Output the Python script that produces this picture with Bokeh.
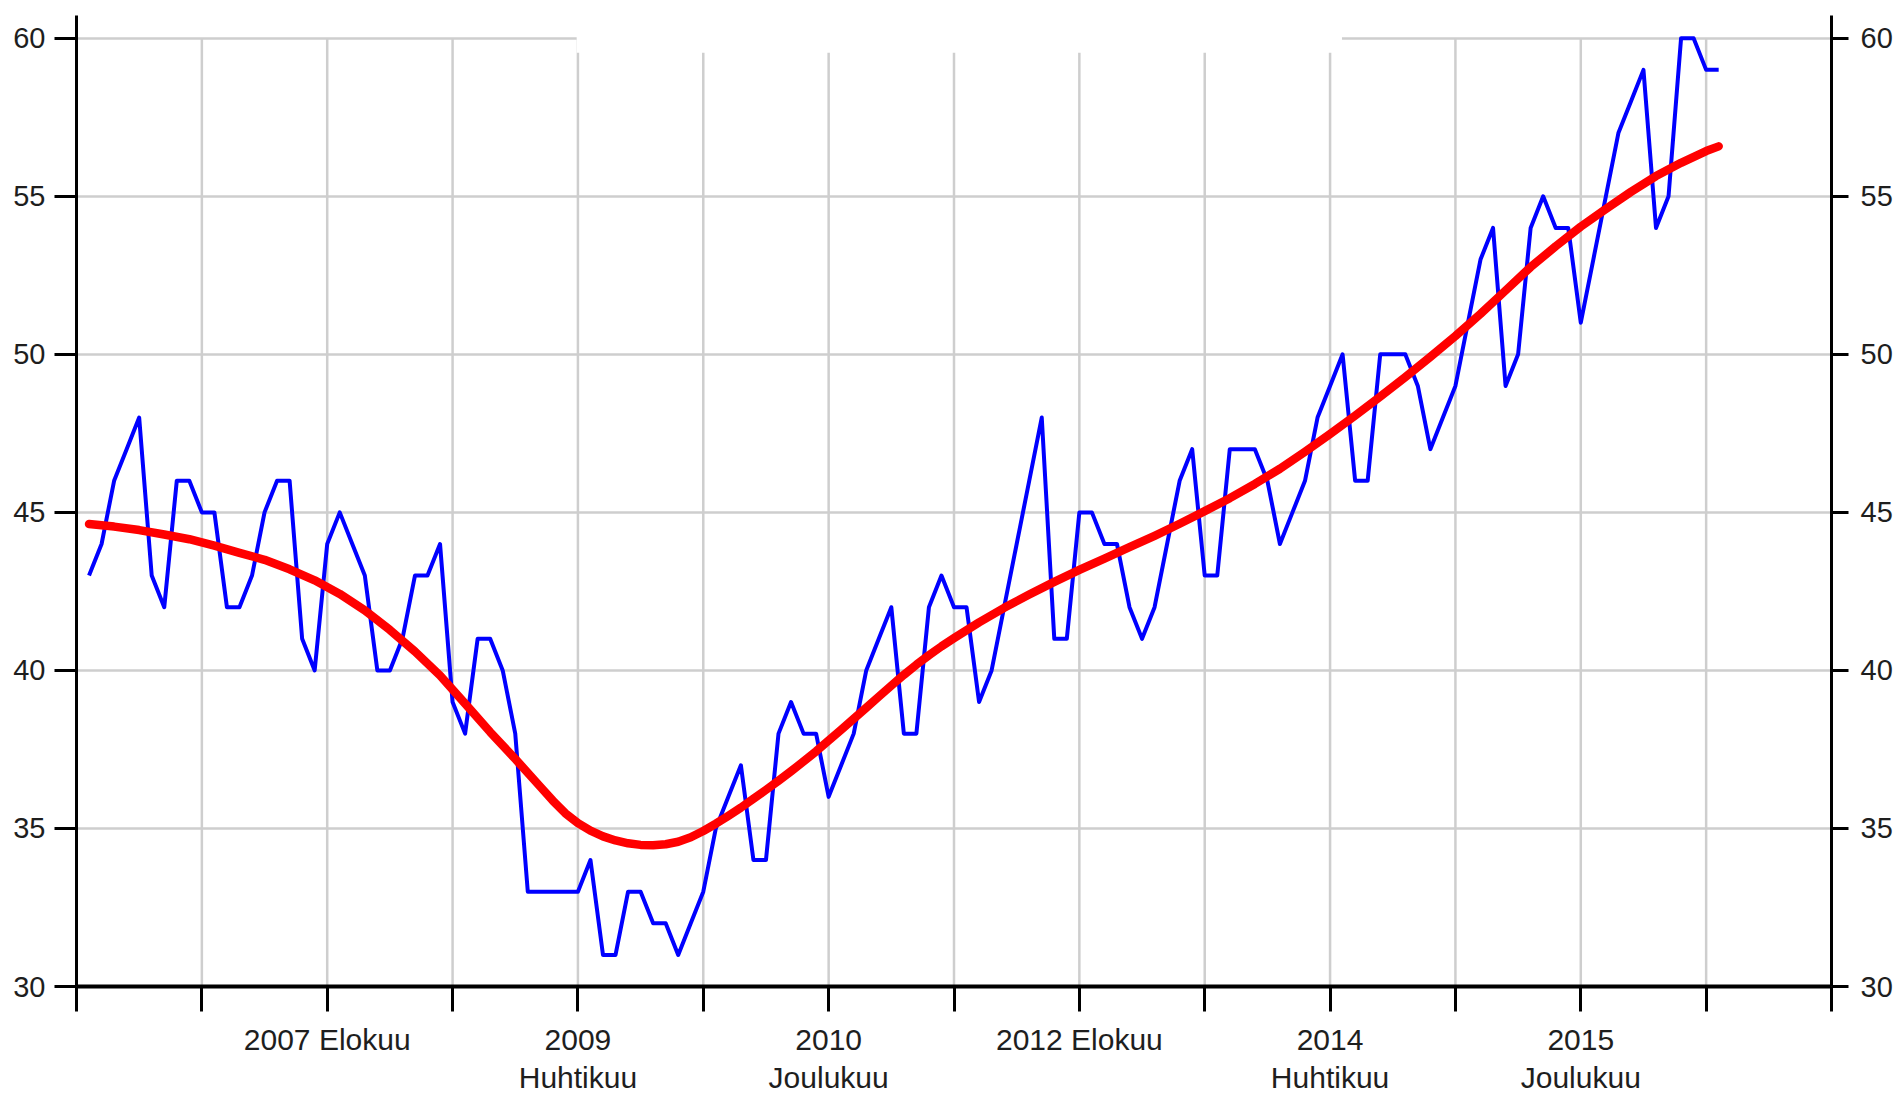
from bokeh.plotting import figure
from bokeh.models import LinearAxis, FixedTicker, Range1d, BoxAnnotation, Grid
from bokeh.embed import file_html
from bokeh.resources import INLINE

# Monthly index: 0 = 2005 Joulukuu (Dec 2005), 1 = Jan 2006, ...
series_values = [
    43, 44, 46, 47, 48, 43, 42, 46, 46, 45,
    45, 42, 42, 43, 45, 46, 46, 41, 40, 44,
    45, 44, 43, 40, 40, 41, 43, 43, 44, 39,
    38, 41, 41, 40, 38, 33, 33, 33, 33, 33,
    34, 31, 31, 33, 33, 32, 32, 31, 32, 33,
    35, 36, 37, 34, 34, 38, 39, 38, 38, 36,
    37, 38, 40, 41, 42, 38, 38, 42, 43, 42,
    42, 39, 40, 42, 44, 46, 48, 41, 41, 45,
    45, 44, 44, 42, 41, 42, 44, 46, 47, 43,
    43, 47, 47, 47, 46, 44, 45, 46, 48, 49,
    50, 46, 46, 50, 50, 50, 49, 47, 48, 49,
    51, 53, 54, 49, 50, 54, 55, 54, 54, 51,
    53, 55, 57, 58, 59, 54, 55, 60, 60, 59,
    59,
]
series_months = list(range(1, len(series_values) + 1))

trend_months = [1, 3, 5, 7, 9, 11, 13, 15, 17, 19, 21, 23, 25, 27, 29, 31, 33, 35,
                37, 38, 39, 40, 41, 42, 43, 44, 45, 46, 47, 48, 49, 50, 51, 52, 53,
                54, 55, 56, 57, 58, 59, 60, 61, 62, 63, 64, 65, 66, 67, 68, 69, 70,
                72, 74, 76, 78, 80, 82, 84, 86, 88, 90, 92, 94, 96, 98, 100, 102,
                104, 106, 108, 110, 112, 114, 116, 118, 120, 122, 124, 126, 128,
                130, 131]
trend_values = [44.63, 44.55, 44.44, 44.30, 44.15, 43.95, 43.72, 43.50, 43.20, 42.85,
                42.42, 41.90, 41.28, 40.60, 39.84, 38.95, 38.05, 37.20,
                36.32, 35.88, 35.48, 35.17, 34.93, 34.75, 34.62, 34.53, 34.48, 34.47,
                34.50, 34.58, 34.72, 34.92, 35.15, 35.40, 35.66,
                35.94, 36.22, 36.51, 36.81, 37.12, 37.44, 37.78, 38.12, 38.47, 38.82,
                39.17, 39.52, 39.86, 40.18, 40.48, 40.76, 41.02,
                41.52, 41.98, 42.40, 42.80, 43.18, 43.54, 43.90, 44.26, 44.64, 45.04,
                45.45, 45.90, 46.38, 46.92, 47.48, 48.06,
                48.66, 49.28, 49.92, 50.58, 51.28, 52.02, 52.76, 53.42, 54.04, 54.60,
                55.14, 55.64, 56.06, 56.43, 56.58]

x_ticks = list(range(0, 141, 10))
x_tick_labels = {20: "2007 Elokuu", 40: "2009\nHuhtikuu", 60: "2010\nJoulukuu",
                 80: "2012 Elokuu", 100: "2014\nHuhtikuu", 120: "2015\nJoulukuu"}
y_ticks = [30, 35, 40, 45, 50, 55, 60]

FONT = "Liberation Sans"
TXT = "#1e1e1e"
GRID = "#cecece"

p = figure(width=1903, height=1097, output_backend="svg", toolbar_location=None,
           x_range=Range1d(0, 140), y_range=Range1d(30, 60.72),
           min_border_left=76, min_border_right=72, min_border_top=15, min_border_bottom=111,
           x_axis_location=None, y_axis_location=None)
p.outline_line_color = None
p.background_fill_color = "white"
p.border_fill_color = "white"
p.xgrid.visible = False
p.ygrid.visible = False

# horizontal grid lines (full width)
hg = Grid(dimension=1, ticker=FixedTicker(ticks=y_ticks), grid_line_color=GRID, grid_line_width=2.5)
p.add_layout(hg)

# vertical grid lines between lowest and highest y tick
vx = [t for t in x_ticks if 0 < t < 140]
p.segment(x0=vx, x1=vx, y0=[min(y_ticks)] * len(vx), y1=[max(y_ticks)] * len(vx),
          line_color=GRID, line_width=2.5)

p.line(series_months, series_values, line_color="#0000ff", line_width=4, line_join="round")
p.line(trend_months, trend_values, line_color="#ff0000", line_width=8.5,
       line_join="round", line_cap="round")

# blank header area
p.add_layout(BoxAnnotation(left=39.9, right=100.95, bottom=59.54, top=60.72,
                           fill_color="white", fill_alpha=1.0, line_alpha=0, level="overlay"))


def style_axis(ax, tick_out, width, size):
    ax.axis_line_color = "black"
    ax.axis_line_width = width
    ax.major_tick_line_color = "black"
    ax.major_tick_line_width = 3
    ax.major_tick_out = tick_out
    ax.major_tick_in = 0
    ax.minor_tick_line_color = None
    ax.major_label_text_font = FONT
    ax.major_label_text_font_size = size
    ax.major_label_text_color = TXT


xa = LinearAxis(ticker=FixedTicker(ticks=x_ticks))
style_axis(xa, 25, 4, "30px")
xa.major_label_overrides = {t: x_tick_labels.get(t, "") for t in x_ticks}
xa.major_label_standoff = 11
xa.major_label_text_line_height = 1.17
p.add_layout(xa, "below")

ya = LinearAxis(ticker=FixedTicker(ticks=y_ticks))
style_axis(ya, 22, 3, "29px")
ya.major_label_standoff = 9
p.add_layout(ya, "left")

yb = LinearAxis(ticker=FixedTicker(ticks=y_ticks))
style_axis(yb, 17, 3, "29px")
yb.major_label_standoff = 12
p.add_layout(yb, "right")

open("out.html", "w").write(file_html(p, INLINE))
